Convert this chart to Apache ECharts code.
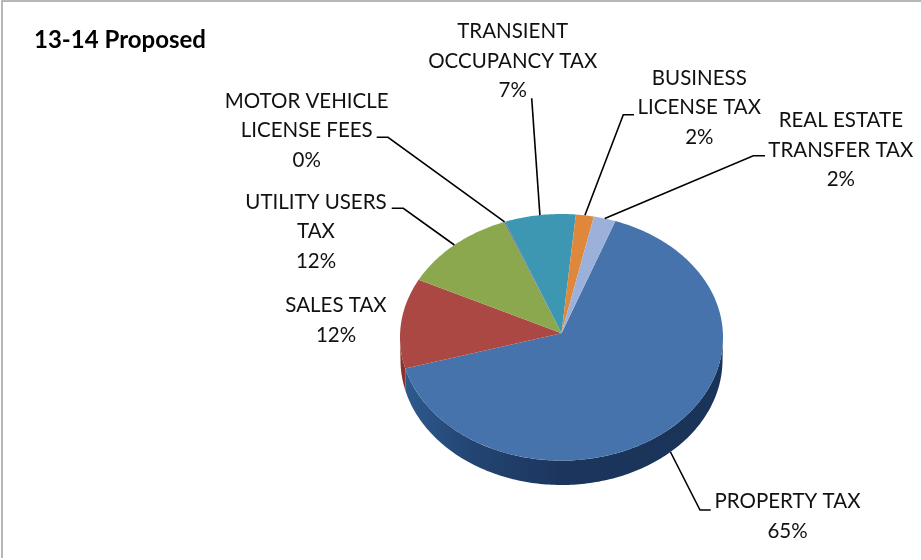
<!DOCTYPE html>
<html>
<head>
  <meta charset="utf-8">
  <title>13-14 Proposed</title>
  <script src="https://cdn.jsdelivr.net/npm/echarts@6/dist/echarts.min.js"></script>
  <style>
    html, body { margin: 0; padding: 0; background: #fff; }
  </style>
</head>
<body>
<div id="main" style="width: 921px; height: 560px"></div>
<script type="text/javascript">
// data
var categories = ['PROPERTY TAX', 'SALES TAX', 'UTILITY USERS\nTAX', 'MOTOR VEHICLE\nLICENSE FEES', 'TRANSIENT\nOCCUPANCY TAX', 'BUSINESS\nLICENSE TAX', 'REAL ESTATE\nTRANSFER TAX'];
var values = [65.49, 11.8, 11.5, 0.1, 7.1, 1.8, 2.2];
var title = '13-14 Proposed';

// look of the slices
var colors = ['#4673ab', '#ab4844', '#8ba84e', '#71588f', '#3e97b2', '#df883c', '#9cb1d9'];
var labelFont = 'Lato, Carlito, sans-serif';

// pie layout: top face ellipse, lower edge ellipse and the apex of the slices
var top_ = { cx: 561.5, cy: 337.3, rx: 161.5, ry: 123.3, apexY: 333.3 };
var low = { cx: 561.5, cy: 360, rx: 161, ry: 125 };
var startAngle = 19.5;

// label centres, and the free ends of the leader lines (end, knee)
var labelPos = [[787.5, 516.5], [336, 320.5], [316, 231.5], [306.7, 130.5], [512.7, 61], [699.3, 107.5], [840.8, 150]];
var leaders = [
  [[710.7, 510], [700, 510]],
  null,
  [[391.7, 208.3], [403.3, 208.3]],
  [[376.7, 137.3], [388, 137.3]],
  [[531.7, 98.3], [531.7, 98.3]],
  [[634, 114.7], [623.3, 114.7]],
  [[765, 155.7], [753.3, 155.7]]
];

var total = 0;
for (var i = 0; i < values.length; i++) total += values[i];

var angles = [];
var acc = startAngle;
for (var j = 0; j < values.length; j++) {
  var a0 = acc;
  acc += values[j] / total * 360;
  angles.push([a0, acc]);
}

function rimPoint(e, deg) {
  var t = deg * Math.PI / 180;
  return [e.cx + e.rx * Math.sin(t), e.cy - e.ry * Math.cos(t)];
}

function arc(e, from, to) {
  var pts = [];
  var n = Math.max(2, Math.ceil(Math.abs(to - from)));
  for (var k = 0; k <= n; k++) {
    pts.push(rimPoint(e, from + (to - from) * k / n));
  }
  return pts;
}

function renderWall(params, api) {
  var a = angles[params.dataIndex];
  var from = Math.max(a[0], 90);
  var to = Math.min(a[1], 270);
  if (to <= from) return null;
  var pts = arc(top_, from, to).concat(arc(low, to, from));
  var fill = params.dataIndex == 0 ? {
    type: 'linear', x: 400, y: 0, x2: 722, y2: 0, global: true,
    colorStops: [
      { offset: 0, color: '#2f5b8f' },
      { offset: 0.22, color: '#234573' },
      { offset: 0.5, color: '#1c355d' },
      { offset: 1, color: '#1a3358' }
    ]
  } : '#8c302c';
  return { type: 'polygon', shape: { points: pts }, style: { fill: fill }, silent: true };
}

function renderFace(params, api) {
  var a = angles[params.dataIndex];
  var pts = [[top_.cx, top_.apexY]].concat(arc(top_, a[0], a[1]));
  return { type: 'polygon', shape: { points: pts }, style: { fill: colors[params.dataIndex] }, silent: true };
}

function renderLabel(params, api) {
  var i = params.dataIndex;
  var a = angles[i];
  var mid = (a[0] + a[1]) / 2;
  var children = [];
  if (leaders[i]) {
    // the front slice is hit on the outer edge of its wall
    var end = rimPoint(mid > 90 && mid < 270 ? low : top_, mid);
    children.push({
      type: 'polyline',
      shape: { points: [leaders[i][0], leaders[i][1], end] },
      style: { stroke: '#000', lineWidth: 1.6, fill: null }
    });
  }
  children.push({
    type: 'text',
    x: labelPos[i][0],
    y: labelPos[i][1],
    style: {
      text: categories[i] + '\n' + Math.round(values[i] / total * 100) + '%',
      font: '20.5px ' + labelFont,
      fill: '#111',
      align: 'center',
      verticalAlign: 'middle',
      lineHeight: 29.5
    }
  });
  return { type: 'group', children: children, silent: true };
}

var myChart = echarts.init(document.getElementById('main'));
myChart.setOption({
  animation: false,
  backgroundColor: '#fff',
  title: {
    text: title,
    left: 34,
    top: 28,
    padding: 0,
    textStyle: { fontFamily: labelFont, fontWeight: 'bold', fontSize: 24, color: '#000' }
  },
  graphic: [
    { type: 'polyline', shape: { points: [[2, 558], [2, 1], [921, 1]] }, style: { stroke: '#a0a0a0', lineWidth: 1.5, fill: null }, silent: true }
  ],
  series: [
    { type: 'custom', coordinateSystem: 'none', data: values, renderItem: renderWall, z: 1 },
    { type: 'custom', coordinateSystem: 'none', data: values, renderItem: renderFace, z: 2 },
    { type: 'custom', coordinateSystem: 'none', data: values, renderItem: renderLabel, z: 3 }
  ]
});
</script>
</body>
</html>
